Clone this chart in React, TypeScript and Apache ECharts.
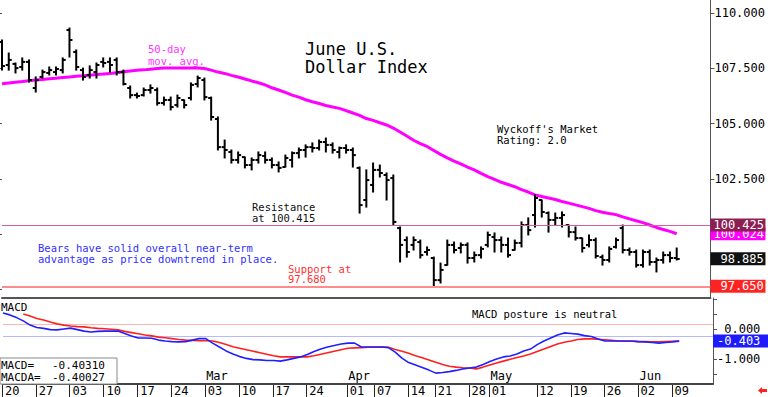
import React, { useEffect, useRef } from "react";
import * as echarts from "echarts";

const FONT = '"DejaVu Sans Mono", monospace';

// trading days (Good Friday excluded); the last five are empty future slots
const dates = [
  "01/20","01/21","01/22","01/23","01/24","01/27","01/28","01/29","01/30","01/31",
  "02/03","02/04","02/05","02/06","02/07","02/10","02/11","02/12","02/13","02/14",
  "02/17","02/18","02/19","02/20","02/21","02/24","02/25","02/26","02/27","02/28",
  "03/03","03/04","03/05","03/06","03/07","03/10","03/11","03/12","03/13","03/14",
  "03/17","03/18","03/19","03/20","03/21","03/24","03/25","03/26","03/27","03/28",
  "03/31","04/01","04/02","04/03","04/04","04/07","04/08","04/09","04/10","04/11",
  "04/14","04/15","04/16","04/17","04/21","04/22","04/23","04/24","04/25","04/28",
  "04/29","04/30","05/01","05/02","05/05","05/06","05/07","05/08","05/09","05/12",
  "05/13","05/14","05/15","05/16","05/19","05/20","05/21","05/22","05/23","05/26",
  "05/27","05/28","05/29","05/30","06/02","06/03","06/04","06/05","06/06","06/09",
  "06/10","06/11","06/12","06/13","06/16","06/17",
];

const dayTickDates = [
  "01/20","01/27","02/03","02/10","02/17","02/24","03/03","03/10","03/17","03/24",
  "04/01","04/07","04/14","04/21","04/28","05/01","05/12","05/19","05/26","06/02","06/09",
];
const monthTickDates = ["03/03", "04/01", "05/01", "06/02"];
const monthNames = ["Mar", "Apr", "May", "Jun"];

const opens = [
  108.69,107.65,107.70,107.56,107.79,106.61,107.11,107.29,107.33,107.42,
  109.23,108.24,107.42,107.20,107.33,107.79,107.79,107.88,107.33,106.61,
  106.29,106.29,106.52,106.52,105.93,106.07,105.84,106.07,106.16,106.79,
  106.97,106.16,105.21,103.94,103.72,103.36,103.49,103.13,103.36,103.54,
  103.36,103.13,103.04,103.36,103.67,103.81,103.94,103.90,104.17,104.04,
  103.72,103.90,103.81,103.00,101.55,102.23,102.91,102.68,102.54,100.28,
  99.74,99.52,99.65,99.20,98.93,97.93,98.61,99.52,99.38,99.52,
  98.93,99.06,99.52,99.88,99.74,99.52,99.29,99.61,100.42,100.87,
  101.55,100.96,100.65,100.74,100.42,100.10,99.83,99.52,99.74,98.97,
  98.84,99.43,100.28,99.29,99.20,98.61,99.20,98.75,98.84,99.06,
  98.93,
];
const highs = [
  108.78,108.19,107.74,107.97,107.88,107.11,107.42,107.56,107.56,107.97,
  109.32,108.33,107.51,107.61,107.74,107.97,107.97,107.97,107.42,106.70,
  106.38,106.61,106.75,106.61,106.20,106.20,106.29,106.07,106.84,107.15,
  107.06,106.20,105.30,104.26,103.81,103.72,103.49,103.45,103.72,103.72,
  103.45,103.27,103.58,103.72,103.90,104.04,104.13,104.26,104.35,104.13,
  103.94,104.04,103.90,103.04,102.91,103.22,103.13,102.77,102.68,100.33,
  99.88,99.88,99.74,99.43,98.97,98.70,99.74,99.65,99.61,99.61,
  99.20,99.43,100.10,100.06,99.88,99.83,99.74,100.56,100.74,101.78,
  101.55,101.01,100.96,101.01,100.42,100.33,99.83,99.97,99.83,99.06,
  99.43,99.83,100.42,99.38,99.29,99.29,99.29,98.93,99.20,99.20,
  99.38,
];
const lows = [
  107.42,107.42,107.29,107.42,106.88,106.43,107.06,107.20,107.20,107.29,
  108.01,107.42,106.97,107.06,107.06,107.56,107.33,107.20,106.75,106.16,
  106.16,106.25,106.38,105.84,105.84,105.62,105.75,105.71,106.07,106.66,
  106.07,105.16,103.81,103.45,103.22,103.22,103.00,102.91,103.22,103.22,
  103.00,102.82,103.04,103.04,103.45,103.49,103.72,103.81,103.72,103.67,
  103.45,103.67,103.04,100.96,101.23,101.91,102.59,101.55,100.42,98.75,
  98.97,99.29,98.93,99.06,97.62,97.80,98.61,99.16,99.16,98.70,
  98.75,98.93,99.43,99.20,99.20,98.97,99.29,99.43,99.97,100.33,
  100.78,100.10,100.42,100.33,99.88,99.74,99.20,99.43,98.93,98.61,
  98.75,99.38,99.16,99.06,98.52,98.52,98.61,98.30,98.70,98.75,
  98.84,
];
const closes = [
  107.60,107.88,107.51,107.79,106.97,106.97,107.33,107.42,107.47,107.88,
  108.78,107.56,107.11,107.42,107.65,107.74,107.65,107.33,106.79,106.29,
  106.25,106.52,106.61,105.93,106.07,105.75,106.16,105.84,106.75,107.06,
  106.20,105.30,103.94,103.81,103.36,103.58,103.13,103.36,103.58,103.36,
  103.13,103.00,103.45,103.67,103.81,103.94,103.90,104.17,104.04,103.81,
  103.90,103.81,103.58,101.32,102.45,102.91,102.77,102.45,100.56,99.52,
  99.20,99.74,99.06,99.29,97.93,98.39,99.52,99.29,99.52,98.93,
  99.06,99.34,99.97,99.74,99.52,99.06,99.61,100.42,100.19,101.64,
  101.01,100.65,100.74,100.87,100.10,99.83,99.38,99.74,99.02,98.84,
  99.34,99.74,99.29,99.20,98.61,99.20,98.75,98.84,99.06,98.93,
  98.885,
];
const movingAvg50 = [
  106.80,106.84,106.87,106.90,106.94,106.97,107.00,107.03,107.05,107.08,
  107.11,107.14,107.16,107.19,107.22,107.24,107.27,107.30,107.34,107.38,
  107.41,107.43,107.46,107.49,107.51,107.51,107.51,107.51,107.51,107.51,
  107.49,107.42,107.33,107.27,107.18,107.11,107.02,106.93,106.85,106.75,
  106.62,106.52,106.41,106.29,106.20,106.08,105.99,105.91,105.82,105.75,
  105.69,105.59,105.48,105.37,105.23,105.15,105.04,104.94,104.80,104.62,
  104.44,104.25,104.10,103.97,103.79,103.61,103.45,103.31,103.18,103.04,
  102.91,102.75,102.61,102.48,102.35,102.25,102.15,102.02,101.91,101.78,
  101.71,101.64,101.57,101.48,101.41,101.33,101.25,101.17,101.07,101.00,
  100.94,100.89,100.79,100.70,100.61,100.53,100.42,100.31,100.22,100.13,
  100.024,
];
const macd = [
  0.53,0.47,0.38,0.27,0.13,0.05,0.02,-0.02,-0.03,0.00,
  0.03,-0.02,-0.07,-0.10,-0.08,-0.07,-0.07,-0.07,-0.15,-0.23,
  -0.30,-0.30,-0.31,-0.37,-0.40,-0.42,-0.43,-0.42,-0.37,-0.32,
  -0.32,-0.47,-0.60,-0.73,-0.83,-0.92,-0.98,-1.02,-1.03,-1.05,
  -1.05,-1.07,-1.03,-0.98,-0.93,-0.85,-0.75,-0.67,-0.60,-0.55,
  -0.50,-0.47,-0.47,-0.60,-0.60,-0.60,-0.60,-0.62,-0.77,-0.97,
  -1.12,-1.20,-1.28,-1.37,-1.47,-1.45,-1.42,-1.38,-1.33,-1.30,
  -1.27,-1.18,-1.08,-1.00,-0.93,-0.90,-0.83,-0.73,-0.67,-0.52,
  -0.40,-0.30,-0.20,-0.13,-0.15,-0.17,-0.22,-0.25,-0.33,-0.40,
  -0.40,-0.40,-0.40,-0.40,-0.42,-0.43,-0.45,-0.47,-0.45,-0.43,
  -0.40310,
];
const macdAvg = [
  null,null,null,0.50,0.43,0.35,0.30,0.23,0.17,0.13,
  0.10,0.08,0.07,0.04,0.02,0.01,-0.01,-0.03,-0.08,-0.12,
  -0.16,-0.20,-0.23,-0.27,-0.29,-0.32,-0.35,-0.37,-0.38,-0.39,
  -0.39,-0.40,-0.45,-0.52,-0.59,-0.64,-0.69,-0.74,-0.79,-0.84,
  -0.89,-0.93,-0.93,-0.93,-0.93,-0.93,-0.89,-0.84,-0.79,-0.74,
  -0.69,-0.64,-0.63,-0.62,-0.61,-0.61,-0.60,-0.61,-0.68,-0.74,
  -0.81,-0.89,-0.96,-1.03,-1.11,-1.18,-1.24,-1.27,-1.29,-1.30,
  -1.33,-1.27,-1.20,-1.13,-1.07,-1.01,-0.95,-0.90,-0.83,-0.75,
  -0.67,-0.58,-0.50,-0.44,-0.40,-0.35,-0.33,-0.33,-0.34,-0.36,
  -0.38,-0.40,-0.41,-0.41,-0.42,-0.42,-0.43,-0.43,-0.42,-0.41,
  -0.40027,
];

const resistanceLevel = 100.425;
const supportLevel = 97.65;
const macdUpperLevel = 0.17;
const macdLowerLevel = -0.23;
const priceTicks = [97.5, 100, 102.5, 105, 107.5, 110];
const priceLabels = [102.5, 105, 107.5, 110];
const macdTicks = [-1.5, -1, -0.5, 0, 0.5, 1];
const macdLabels = [-1, 0];

const daySet = new Set(dayTickDates);
const monthMap: Record<string, string> = {};
monthTickDates.forEach((d, k) => (monthMap[d] = monthNames[k]));

function tagLabel(text: string, bg: string, padLeft: number) {
  return {
    show: true,
    position: "end",
    distance: 0,
    formatter: text,
    color: "#fff",
    backgroundColor: bg,
    fontFamily: FONT,
    fontSize: 12,
    lineHeight: 12,
    padding: [1, Math.max(0, 55 - padLeft - text.length * 7.22), 0, padLeft],
  };
}

export default function App() {
  const ref = useRef<HTMLDivElement>(null);
  useEffect(() => {
    if (!ref.current) return;
    const chart = echarts.init(ref.current, null, { renderer: "svg" });
    const ohlc = opens.map((o, i) => [i, o, highs[i], lows[i], closes[i]]);
    const lastClose = closes[closes.length - 1];
    const lastMA = movingAvg50[movingAvg50.length - 1];
    const lastMacd = macd[macd.length - 1] as number;
    const lastMacdA = macdAvg[macdAvg.length - 1] as number;
    const priceTag = (v: number, bg: string) => {
      const t = v.toFixed(3);
      return tagLabel(t, bg, t.length >= 7 ? 3 : 10);
    };
    const txt = (x: number, y: number, text: string, size: number, lh: number, fill: string) => ({
      type: "text",
      x,
      y,
      silent: true,
      style: { text, fontFamily: FONT, fontSize: size, lineHeight: lh, fill, verticalAlign: "top", textVerticalAlign: "top" },
    });
    const isDayTick = (i: number, v: string) => daySet.has(v);

    const option: any = {
      animation: false,
      backgroundColor: "#fff",
      grid: [
        { left: 2, right: 55, top: 0, height: 298 },
        { left: 2, right: 55, top: 298, height: 86 },
        { left: 2, right: 55, top: 298, height: 86 },
        { left: 2, right: 55, top: 384, height: 13 },
      ],
      xAxis: [
        {
          type: "category", gridIndex: 0, data: dates, boundaryGap: false,
          axisLine: { show: true, onZero: false, lineStyle: { color: "#555", width: 2 } },
          axisTick: { show: false }, axisLabel: { show: false }, splitLine: { show: false },
        },
        {
          type: "category", gridIndex: 1, data: dates, boundaryGap: false,
          axisLine: { show: true, onZero: false, lineStyle: { color: "#444", width: 2 } },
          axisTick: { show: false },
          axisLabel: {
            interval: isDayTick,
            formatter: (v: string) => v.slice(3),
            align: "left", margin: 1, padding: [0, 0, 0, 2],
            fontFamily: FONT, fontSize: 12, lineHeight: 12, color: "#000",
          },
          splitLine: { show: false },
        },
        {
          type: "category", gridIndex: 2, data: dates, boundaryGap: false,
          axisLine: { show: false, onZero: false }, axisTick: { show: false },
          axisLabel: {
            inside: true,
            interval: (i: number, v: string) => !!monthMap[v],
            formatter: (v: string) => monthMap[v] || "",
            align: "left", margin: 2, padding: [0, 0, 0, 1],
            fontFamily: FONT, fontSize: 12, color: "#000",
          },
          splitLine: { show: false },
        },
        {
          type: "category", gridIndex: 3, data: dates, boundaryGap: false,
          axisLine: { show: false, onZero: false }, axisTick: { show: false }, axisLabel: { show: false },
          splitLine: { show: true, interval: isDayTick, lineStyle: { color: "#222", width: 1 } },
        },
      ],
      yAxis: [
        {
          type: "value", gridIndex: 0, position: "right", min: 97.122, max: 110.587,
          axisLine: { show: true, lineStyle: { color: "#555", width: 1 } },
          axisTick: { show: true, customValues: priceTicks, length: 4, lineStyle: { color: "#555" } },
          axisLabel: { customValues: priceLabels, formatter: (v: number) => v.toFixed(3), margin: 4, fontFamily: FONT, fontSize: 12, color: "#000" },
          splitLine: { show: false },
        },
        {
          type: "value", gridIndex: 0, position: "left", min: 97.122, max: 110.587,
          axisLine: { show: false },
          axisTick: { show: true, customValues: priceTicks, length: 2, lineStyle: { color: "#555" } },
          axisLabel: { show: false }, splitLine: { show: false },
        },
        {
          type: "value", gridIndex: 1, position: "right", min: -1.833, max: 1.033,
          axisLine: { show: true, lineStyle: { color: "#555", width: 1 } },
          axisTick: { show: true, customValues: macdTicks, length: 4, lineStyle: { color: "#555" } },
          axisLabel: {
            customValues: macdLabels,
            formatter: (v: number) => (v >= 0 ? "\u00a0" : "") + v.toFixed(3),
            margin: 4, fontFamily: FONT, fontSize: 12, color: "#000",
          },
          splitLine: { show: false },
        },
        { type: "value", gridIndex: 2, min: -1.833, max: 1.033, show: false },
        { type: "value", gridIndex: 3, min: 0, max: 1, show: false },
      ],
      series: [
        {
          name: "levels", type: "line", xAxisIndex: 0, yAxisIndex: 0, data: [], z: 5,
          markLine: {
            z: 8,
            silent: true, symbol: ["none", "none"], animation: false,
            data: [
              { yAxis: supportLevel, lineStyle: { color: "#ff8c8c", width: 2, type: "solid" }, label: priceTag(supportLevel, "#ff2424") },
              { yAxis: lastClose, lineStyle: { color: "rgba(0,0,0,0)", width: 0 }, label: priceTag(lastClose, "#111") },
              { yAxis: resistanceLevel, lineStyle: { color: "#d0609a", width: 1, type: "solid" }, label: priceTag(resistanceLevel, "#8b1f52") },
            ],
          },
        },
        {
          name: "50-day", type: "line", xAxisIndex: 0, yAxisIndex: 0, data: movingAvg50, z: 3,
          showSymbol: false, symbol: "none", lineStyle: { color: "#ff00ff", width: 3 },
          markLine: {
            z: 6,
            silent: true, symbol: ["none", "none"], animation: false,
            data: [{ yAxis: lastMA, lineStyle: { color: "rgba(0,0,0,0)", width: 0 }, label: priceTag(lastMA, "#ff00ff") }],
          },
        },
        {
          name: "price", type: "custom", xAxisIndex: 0, yAxisIndex: 0, data: ohlc, z: 4,
          encode: { x: 0, y: [1, 2, 3, 4] },
          renderItem: (params: any, api: any) => {
            const i = api.value(0);
            const pO = api.coord([i, api.value(1)]);
            const pH = api.coord([i, api.value(2)]);
            const pL = api.coord([i, api.value(3)]);
            const pC = api.coord([i, api.value(4)]);
            const x = pO[0];
            const st = { stroke: "#000", lineWidth: 2 };
            return {
              type: "group",
              children: [
                { type: "line", shape: { x1: x, y1: pH[1] - 0.5, x2: x, y2: pL[1] + 0.5 }, style: st },
                { type: "line", shape: { x1: x - 3, y1: pO[1], x2: x, y2: pO[1] }, style: st },
                { type: "line", shape: { x1: x, y1: pC[1], x2: x + 3, y2: pC[1] }, style: st },
              ],
            };
          },
        },
        {
          name: "macdLevels", type: "line", xAxisIndex: 1, yAxisIndex: 2, data: [], z: 1,
          markLine: {
            z: 1,
            silent: true, symbol: ["none", "none"], animation: false, label: { show: false },
            data: [
              { yAxis: macdUpperLevel, lineStyle: { color: "#ffb4b4", width: 1, type: "solid" } },
              { yAxis: macdLowerLevel, lineStyle: { color: "#b8b8ff", width: 1, type: "solid" } },
            ],
          },
        },
        {
          name: "MACDA", type: "line", xAxisIndex: 1, yAxisIndex: 2, data: macdAvg, z: 3,
          showSymbol: false, symbol: "none", lineStyle: { color: "#ff2020", width: 1.6 },
        },
        {
          name: "MACD", type: "line", xAxisIndex: 1, yAxisIndex: 2, data: macd, z: 4,
          showSymbol: false, symbol: "none", lineStyle: { color: "#2020ff", width: 1.6 },
          markLine: {
            z: 8,
            silent: true, symbol: ["none", "none"], animation: false,
            data: [{ yAxis: lastMacd, lineStyle: { color: "rgba(0,0,0,0)", width: 0 }, label: tagLabel(lastMacd.toFixed(3), "#1c1cff", 4) }],
          },
        },
      ],
      graphic: [
        txt(305, 39.5, "June U.S.\nDollar Index", 17, 18, "#000"),
        txt(148, 43.5, "50-day\nmov. avg.", 10.5, 11.5, "#ff33ff"),
        txt(497, 123.5, "Wyckoff's Market\nRating: 2.0", 10.5, 11, "#000"),
        txt(252, 201.5, "Resistance\nat 100.415", 10.5, 11, "#111"),
        txt(38, 242.5, "Bears have solid overall near-term\nadvantage as price downtrend in place.", 10.5, 11, "#3030ff"),
        txt(288, 263.5, "Support at\n97.680", 10.5, 10.5, "#ff3030"),
        txt(472, 308.5, "MACD posture is neutral", 10.5, 11, "#000"),
        txt(1, 301, "MACD", 11, 12, "#000"),
        {
          type: "rect", silent: true, shape: { x: 0, y: 358, width: 117, height: 26 },
          style: { fill: "#fff", stroke: "#888", lineWidth: 1 }, z: 10,
        },
        { ...txt(1, 359, "MACD=\nMACDA=", 11, 12, "#000"), z: 11 },
        { ...txt(52, 359, lastMacd.toFixed(5) + "\n" + lastMacdA.toFixed(5), 11, 12, "#000"), z: 11 },
        {
          type: "polygon", silent: true,
          shape: { points: [[758, 390.5], [762, 387], [762, 389], [767, 389], [767, 392], [762, 392], [762, 394]] },
          style: { fill: "#ff2020" },
        },
      ],
    };
    chart.setOption(option);
    return () => chart.dispose();
  }, []);
  return (
    <div
      ref={ref}
      style={{ position: "absolute", left: 0, top: 0, width: 768, height: 397, background: "#fff" }}
    />
  );
}
